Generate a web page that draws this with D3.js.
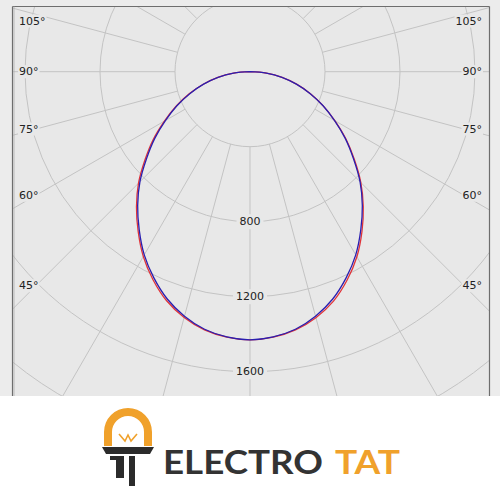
<!DOCTYPE html>
<html>
<head>
<meta charset="utf-8">
<script src="https://cdn.jsdelivr.net/npm/d3@7/dist/d3.min.js"></script>
<style>
  html, body { margin: 0; padding: 0; background: #ffffff; }
  svg { display: block; }
</style>
</head>
<body>
<svg id="chart" width="500" height="500"></svg>
<script>
// ---- data ----
const angles = [-90,-85,-80,-75,-70,-65,-60,-55,-50,-45,-40,-35,-30,-25,-20,-15,-10,-5,0,
                5,10,15,20,25,30,35,40,45,50,55,60,65,70,75,80,85,90];
const planeBlue = [0,88,173,256,342,430,520,620,720,830,932,1030,1128,1213,1290,1350,1395,1420,1430,
                   1420,1395,1350,1290,1213,1128,1030,932,830,720,620,520,430,342,256,173,88,0];
const planeRed  = [0,88,174,258,345,435,527,630,731,841,942,1040,1138,1224,1300,1357,1398,1421,1430,
                   1421,1398,1358,1302,1226,1140,1041,940,836,726,624,522,431,343,257,174,88,0];
const ringValues = [400, 800, 1200, 1600, 2000, 2400];
const ringLabels = [800, 1200, 1600];
const spokeAngles = d3.range(-180, 181, 15);
const angleLabels = [45, 60, 75, 90, 105];

// ---- layout ----
const W = 500;
const cx = 250, cy = 71.7;
const frame = {x0: 12.5, y0: 6.5, x1: 489.5, y1: 396};
const bg = "#e8e8e8";
const r = d3.scaleLinear().domain([0, 400]).range([0, 75]);

const svg = d3.select("#chart");
svg.append("rect").attr("x", 0).attr("y", 0).attr("width", W).attr("height", frame.y1)
   .attr("fill", "#ececec");
svg.append("rect").attr("x", frame.x0).attr("y", frame.y0)
   .attr("width", frame.x1 - frame.x0).attr("height", frame.y1 - frame.y0).attr("fill", bg);

const defs = svg.append("defs");
defs.append("clipPath").attr("id", "clip").append("rect")
   .attr("x", frame.x0).attr("y", frame.y0)
   .attr("width", frame.x1 - frame.x0).attr("height", frame.y1 - frame.y0);

const g = svg.append("g").attr("clip-path", "url(#clip)");
const pg = g.append("g").attr("transform", `translate(${cx},${cy})`);

// rings
pg.selectAll("circle.ring").data(ringValues).join("circle")
  .attr("class", "ring").attr("r", d => r(d))
  .attr("fill", "none").attr("stroke", "#c3c3c3").attr("stroke-width", 1);

// spokes (angle measured from straight down)
const toXY = (deg, v) => {
  const a = deg * Math.PI / 180;
  return [r(v) * Math.sin(a), r(v) * Math.cos(a)];
};
pg.selectAll("line.spoke").data(spokeAngles).join("line")
  .attr("class", "spoke")
  .attr("x1", d => toXY(d, 400)[0]).attr("y1", d => toXY(d, 400)[1])
  .attr("x2", d => toXY(d, 3000)[0]).attr("y2", d => toXY(d, 3000)[1])
  .attr("stroke", "#c3c3c3").attr("stroke-width", 1);

// ring labels
const labelFont = "DejaVu Sans, Verdana, sans-serif";
ringLabels.forEach(v => {
  const t = pg.append("text").attr("x", 0).attr("y", r(v))
    .attr("text-anchor", "middle").attr("dominant-baseline", "central")
    .attr("font-family", labelFont).attr("font-size", 11).attr("fill", "#222")
    .text(v);
  const bb = t.node().getBBox();
  pg.insert("rect", "text").attr("x", bb.x - 3).attr("y", bb.y - 1)
    .attr("width", bb.width + 6).attr("height", bb.height + 2).attr("fill", bg);
});

// curves
const radial = d3.lineRadial()
  .angle(d => Math.PI - d[0] * Math.PI / 180)
  .radius(d => r(d[1]))
  .curve(d3.curveCatmullRom.alpha(0.5));
pg.append("path").datum(angles.map((a, i) => [a, planeRed[i]]))
  .attr("d", radial).attr("fill", "none").attr("stroke", "#e0343a").attr("stroke-width", 1.3);
pg.append("path").datum(angles.map((a, i) => [a, planeBlue[i]]))
  .attr("d", radial).attr("fill", "none").attr("stroke", "#2a1fb0").attr("stroke-width", 1.3);

// angle labels on both sides
const lg = svg.append("g");
angleLabels.forEach(deg => {
  [-1, 1].forEach(side => {
    const a = deg * Math.PI / 180;
    const dx = 214;
    const yy = Math.max(21, cy + dx * Math.cos(a) / Math.sin(a));
    const t = lg.append("text")
      .attr("x", side < 0 ? 19 : 482).attr("y", yy)
      .attr("text-anchor", side < 0 ? "start" : "end")
      .attr("dominant-baseline", "central")
      .attr("font-family", labelFont).attr("font-size", 11).attr("fill", "#222")
      .text(deg + "°");
    const bb = t.node().getBBox();
    lg.insert("rect", "text").attr("x", bb.x - 1).attr("y", bb.y)
      .attr("width", bb.width + 2).attr("height", bb.height).attr("fill", bg);
  });
});

// frame lines
const fr = svg.append("g");
fr.append("line").attr("x1", frame.x0).attr("x2", frame.x1).attr("y1", frame.y0).attr("y2", frame.y0)
  .attr("stroke", "#6e6e6e").attr("stroke-width", 1);
fr.append("line").attr("x1", frame.x0).attr("x2", frame.x0).attr("y1", frame.y0).attr("y2", frame.y1)
  .attr("stroke", "#6e6e6e").attr("stroke-width", 1.2);
fr.append("line").attr("x1", frame.x1).attr("x2", frame.x1).attr("y1", frame.y0).attr("y2", frame.y1)
  .attr("stroke", "#6e6e6e").attr("stroke-width", 1.2);
fr.append("line").attr("x1", frame.x0 + 1.5).attr("x2", frame.x0 + 1.5).attr("y1", frame.y0).attr("y2", frame.y1)
  .attr("stroke", "#b0b0b0").attr("stroke-width", 0.8);

// ---- logo ----
const orange = "#f0a12b", dark = "#2b2b2b";
const logo = svg.append("g");
logo.append("path")
  .attr("d", "M104,446 L104,432 A24,24 0 0 1 152,432 L152,446 L144,446 L144,432 A16,16 0 0 0 112,432 L112,446 Z")
  .attr("fill", orange);
logo.append("path").attr("d", "M119,434 L125,441 L128,435 L131,441 L137,434")
  .attr("fill", "none").attr("stroke", orange).attr("stroke-width", 1.6);
logo.append("path").attr("d", "M102,447 L154,447 L150,454 L106,454 Z").attr("fill", dark);
logo.append("path").attr("d", "M110,456 L124,456 L124,478 L116,478 L116,460 L110,460 Z").attr("fill", dark);
logo.append("rect").attr("x", 129).attr("y", 456).attr("width", 6).attr("height", 30).attr("fill", dark);

logo.append("text").attr("x", 163).attr("y", 474)
  .attr("font-family", "Lato, 'DejaVu Sans', sans-serif").attr("font-weight", 700)
  .attr("font-size", 33).attr("fill", "#333")
  .attr("textLength", 160).attr("lengthAdjust", "spacingAndGlyphs")
  .text("ELECTRO");
logo.append("text").attr("x", 335).attr("y", 474)
  .attr("font-family", "Lato, 'DejaVu Sans', sans-serif").attr("font-weight", 700)
  .attr("font-size", 33).attr("fill", orange)
  .attr("textLength", 65).attr("lengthAdjust", "spacingAndGlyphs")
  .text("TAT");
</script>
</body>
</html>
